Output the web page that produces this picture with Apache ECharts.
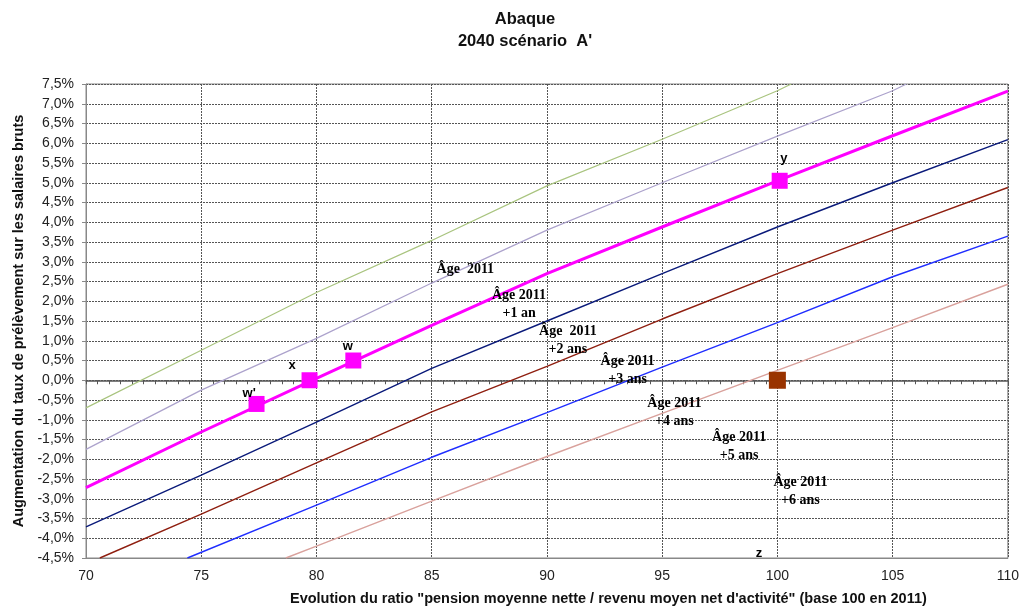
<!DOCTYPE html>
<html>
<head>
<meta charset="utf-8">
<script src="https://cdn.jsdelivr.net/npm/echarts@6/dist/echarts.min.js"></script>
<style>html,body{margin:0;padding:0;background:#fff}#c{width:1022px;height:608px}</style>
</head>
<body>
<div id="c"></div>
<script>
// ---- data (x = ratio, y = % augmentation) ----
const xTicks = [70, 75, 80, 85, 90, 95, 100, 105, 110];
const lineGreen    = [[70,-0.70],[75,0.76],[80,2.22],[85,3.54],[90,4.92],[95,6.10],[100,7.33],[100.6,7.5]];
const lineLavender = [[70,-1.75],[75,-0.25],[80,1.06],[85,2.46],[90,3.80],[95,5.00],[100,6.18],[105,7.33],[105.6,7.5]];
const linePink     = [[70,-2.72],[75,-1.31],[80,0.05],[85,1.39],[90,2.70],[95,3.88],[100,5.05],[105,6.19],[110,7.32]];
const lineNavy     = [[70,-3.71],[75,-2.40],[80,-1.06],[85,0.30],[90,1.50],[95,2.70],[100,3.88],[105,5.00],[110,6.09]];
const lineBrown    = [[70.6,-4.5],[75,-3.39],[80,-2.09],[85,-0.80],[90,0.35],[95,1.55],[100,2.70],[105,3.80],[110,4.88]];
const lineBlue     = [[74.4,-4.5],[80,-3.16],[85,-1.95],[90,-0.82],[95,0.33],[100,1.46],[105,2.62],[110,3.65]];
const lineRose     = [[78.67,-4.5],[80,-4.20],[85,-3.06],[90,-1.93],[95,-0.84],[100,0.25],[105,1.33],[110,2.43]];
const pinkPoints   = [[77.4,-0.6],[79.7,0.0],[81.6,0.5],[100.1,5.05]];
const brownPoint   = [[100,0.0]];
const letterLabels = [["w'",77.08,-0.33],["x",78.94,0.38],["w",81.36,0.86],["y",100.28,5.62],["z",99.2,-4.38]];
const ageLabels    = [["Âge  2011",86.46,2.81],["Âge 2011\n+1 an",88.79,1.92],["Âge  2011\n+2 ans",90.91,1.01],
                      ["Âge 2011\n+3 ans",93.5,0.25],["Âge 2011\n+4 ans",95.53,-0.81],["Âge 2011\n+5 ans",98.34,-1.67],
                      ["Âge 2011\n+6 ans",101.0,-2.81]];

const chart = echarts.init(document.getElementById('c'));
const gridLine = {show:true, lineStyle:{color:'#555', type:[2,1], width:1}};
function lineSeries(data, color, width){
  return {type:'line', data:data, showSymbol:false, symbol:'none', smooth:false, clip:true,
          lineStyle:{color:color, width:width}, silent:true, z:3};
}
chart.setOption({
  animation:false,
  textStyle:{fontFamily:'Liberation Sans, Arial, sans-serif'},
  title:{text:"Abaque\n2040 scénario  A'", left:520, top:3, textAlign:'center',
         textStyle:{fontSize:16.5, fontWeight:'bold', color:'#111', lineHeight:22, fontFamily:'Liberation Sans, Arial'}},
  grid:{left:86, right:10, top:84, bottom:50, show:true, borderColor:'#888', borderWidth:1},
  xAxis:[{
    type:'value', min:70, max:110, interval:5, position:'bottom',
    axisLine:{show:true, onZero:false, lineStyle:{color:'#888'}},
    axisTick:{show:false},
    axisLabel:{color:'#222', fontSize:14, margin:11},
    splitLine:gridLine
  },{
    type:'value', min:70, max:110, interval:5, position:'bottom',
    axisLine:{show:true, onZero:true, lineStyle:{color:'#555', width:1.5}},
    axisTick:{show:true, length:4, lineStyle:{color:'#555'}},
    minorTick:{show:true, splitNumber:10, length:4, lineStyle:{color:'#555'}},
    axisLabel:{show:false}, splitLine:{show:false}
  }],
  yAxis:{
    type:'value', min:-4.5, max:7.5, interval:0.5,
    name:'Augmentation du taux de prélèvement sur les salaires bruts',
    nameLocation:'middle', nameGap:55, nameRotate:90,
    nameTextStyle:{fontSize:14.5, fontWeight:'bold', color:'#111'},
    axisLine:{show:true, onZero:false, lineStyle:{color:'#888'}},
    axisTick:{show:true, length:4, lineStyle:{color:'#888'}},
    axisLabel:{color:'#222', fontSize:14, margin:12,
      formatter:v => v.toFixed(1).replace('.', ',') + '%'},
    splitLine:gridLine
  },
  graphic:[{type:'text', left:290, top:591,
    style:{text:"Evolution du ratio \"pension moyenne nette / revenu moyen net d'activité\" (base 100 en 2011)",
      font:'bold 14.5px "Liberation Sans", Arial', fill:'#111'}}],
  series:[
    lineSeries(lineGreen, '#a9c47f', 1.2),
    lineSeries(lineLavender, '#aca2cc', 1.2),
    lineSeries(linePink, '#ff00ff', 3),
    lineSeries(lineNavy, '#0a1a7a', 1.4),
    lineSeries(lineBrown, '#8f1f10', 1.4),
    lineSeries(lineBlue, '#1f2dff', 1.4),
    lineSeries(lineRose, '#d9a19c', 1.4),
    {type:'scatter', data:pinkPoints, symbol:'rect', symbolSize:16, itemStyle:{color:'#ff00ff', opacity:1}, z:5, silent:true},
    {type:'scatter', data:brownPoint, symbol:'rect', symbolSize:17, itemStyle:{color:'#993300', opacity:1}, z:5, silent:true},
    {type:'scatter', data:letterLabels.map(d => ({value:[d[1],d[2]], name:d[0]})), symbolSize:0, z:6, silent:true,
      itemStyle:{opacity:1},
      label:{show:true, position:'inside', formatter:p => p.name, fontSize:13, fontWeight:'bold', color:'#000',
             opacity:1, fontFamily:'Liberation Sans, Arial'}},
    {type:'scatter', data:ageLabels.map(d => ({value:[d[1],d[2]], name:d[0]})), symbolSize:0, z:6, silent:true,
      itemStyle:{opacity:1},
      label:{show:true, position:'inside', formatter:p => p.name, fontSize:14, fontWeight:'bold', color:'#000',
             opacity:1, lineHeight:18, align:'center', fontFamily:'Liberation Serif, Times New Roman, serif'}}
  ]
});
</script>
</body>
</html>
